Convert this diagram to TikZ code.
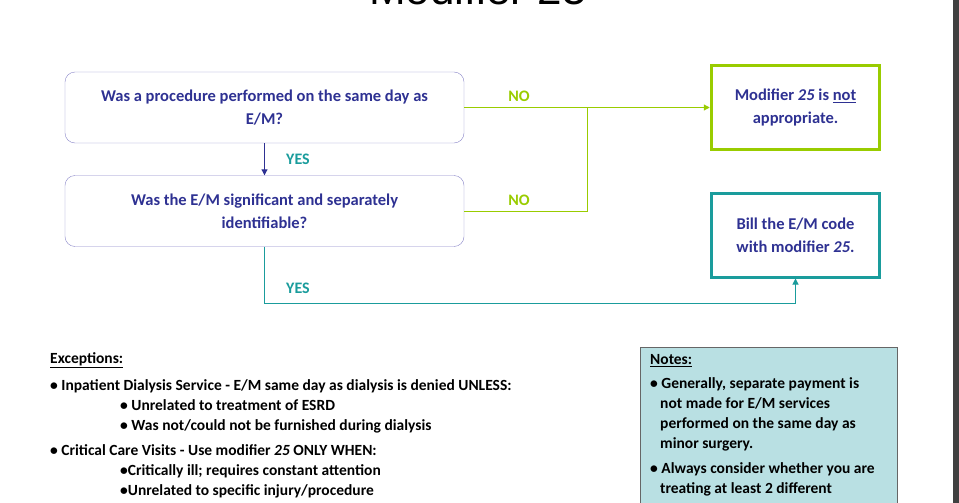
\documentclass[tikz,border=0pt]{standalone}
\usepackage{fontspec}
\setmainfont{Carlito}
\newfontfamily\titlefont{Liberation Sans}
\usetikzlibrary{arrows.meta}
\definecolor{tblue}{HTML}{2E3192}
\definecolor{pbord}{HTML}{8A86C8}
\definecolor{lgreen}{HTML}{99CC00}
\definecolor{teal1}{HTML}{1A9C9C}
\definecolor{notefill}{HTML}{B9E0E3}
\tikzset{
  qbox/.style={draw=pbord,rounded corners=10pt,minimum width=399pt,minimum height=71pt,align=center,font=\fontsize{16.5}{23}\selectfont\bfseries,text=tblue},
  rbox/.style={draw,line width=3.5pt,minimum width=168pt,minimum height=84pt,align=center,font=\fontsize{16.5}{23}\selectfont\bfseries,text=tblue},
  lbl/.style={font=\fontsize{16}{18}\selectfont\bfseries},
}
\begin{document}
\begin{tikzpicture}[x=1pt,y=-1pt]
\useasboundingbox (0,0) rectangle (959,503);
\fill[black!75] (953,0) rectangle (959,503);
\node[anchor=base,font=\titlefont\fontsize{44}{44}\selectfont] (title) at (478,5) {Modifier 25};
\node[qbox] (q1) at (264.5,107.5) {Was a procedure performed on the same day as\\E/M?};
\node[qbox] (q2) at (264.5,211) {Was the E/M significant and separately\\identifiable?};
\node[rbox,draw=lgreen] (r1) at (795.5,107.5) {Modifier \textit{25} is \underline{not}\\appropriate.};
\node[rbox,draw=teal1,line width=3pt] (r2) at (795.5,235) {Bill the E/M code\\with modifier \textit{25}.};
\coordinate (j) at (587,107.5);
\draw[lgreen,line width=1.2pt,-{Triangle[length=6pt,width=6pt]}] (q1.east) -- (r1.west);
\draw[lgreen,line width=1pt] (q2.east) -- (587,211) -- (j);
\node[lbl,text=lgreen] (no1) at (519,96) {NO};
\node[lbl,text=lgreen] (no2) at (519,200) {NO};
\draw[tblue,line width=1pt,-{Triangle[length=6pt,width=6pt]}] (q1.south) -- (q2.north);
\node[lbl,text=teal1] (yes1) at (298,159) {YES};
\draw[teal1,line width=1pt,-{Triangle[length=6pt,width=6pt]}] (q2.south) -- (264.5,303) -- (r2.south |- 0,303) -- (r2.south);
\node[lbl,text=teal1] (yes2) at (298,288) {YES};
\node[anchor=north west,align=left,font=\fontsize{15.5}{20}\selectfont\bfseries,inner sep=0pt] (exc) at (50,352) {%
\underline{Exceptions:}\\[7pt]
\textbullet\ Inpatient Dialysis Service - E/M same day as dialysis is denied UNLESS:\\
\hspace*{70pt}\textbullet\ Unrelated to treatment of ESRD\\
\hspace*{70pt}\textbullet\ Was not/could not be furnished during dialysis\\[5pt]
\textbullet\ Critical Care Visits - Use modifier \textit{25} ONLY WHEN:\\
\hspace*{70pt}\textbullet Critically ill; requires constant attention\\
\hspace*{70pt}\textbullet Unrelated to specific injury/procedure};
\fill[notefill,draw=black!60] (640,347) rectangle (897,510);
\node[anchor=north west,align=left,font=\fontsize{15.5}{20}\selectfont\bfseries,inner sep=0pt] (notes) at (650,354) {%
\underline{Notes:}\\[4pt]
\textbullet\ Generally, separate payment is\\
\hspace*{10pt}not made for E/M services\\
\hspace*{10pt}performed on the same day as\\
\hspace*{10pt}minor surgery.\\[5pt]
\textbullet\ Always consider whether you are\\
\hspace*{10pt}treating at least 2 different};
\end{tikzpicture}
\end{document}
